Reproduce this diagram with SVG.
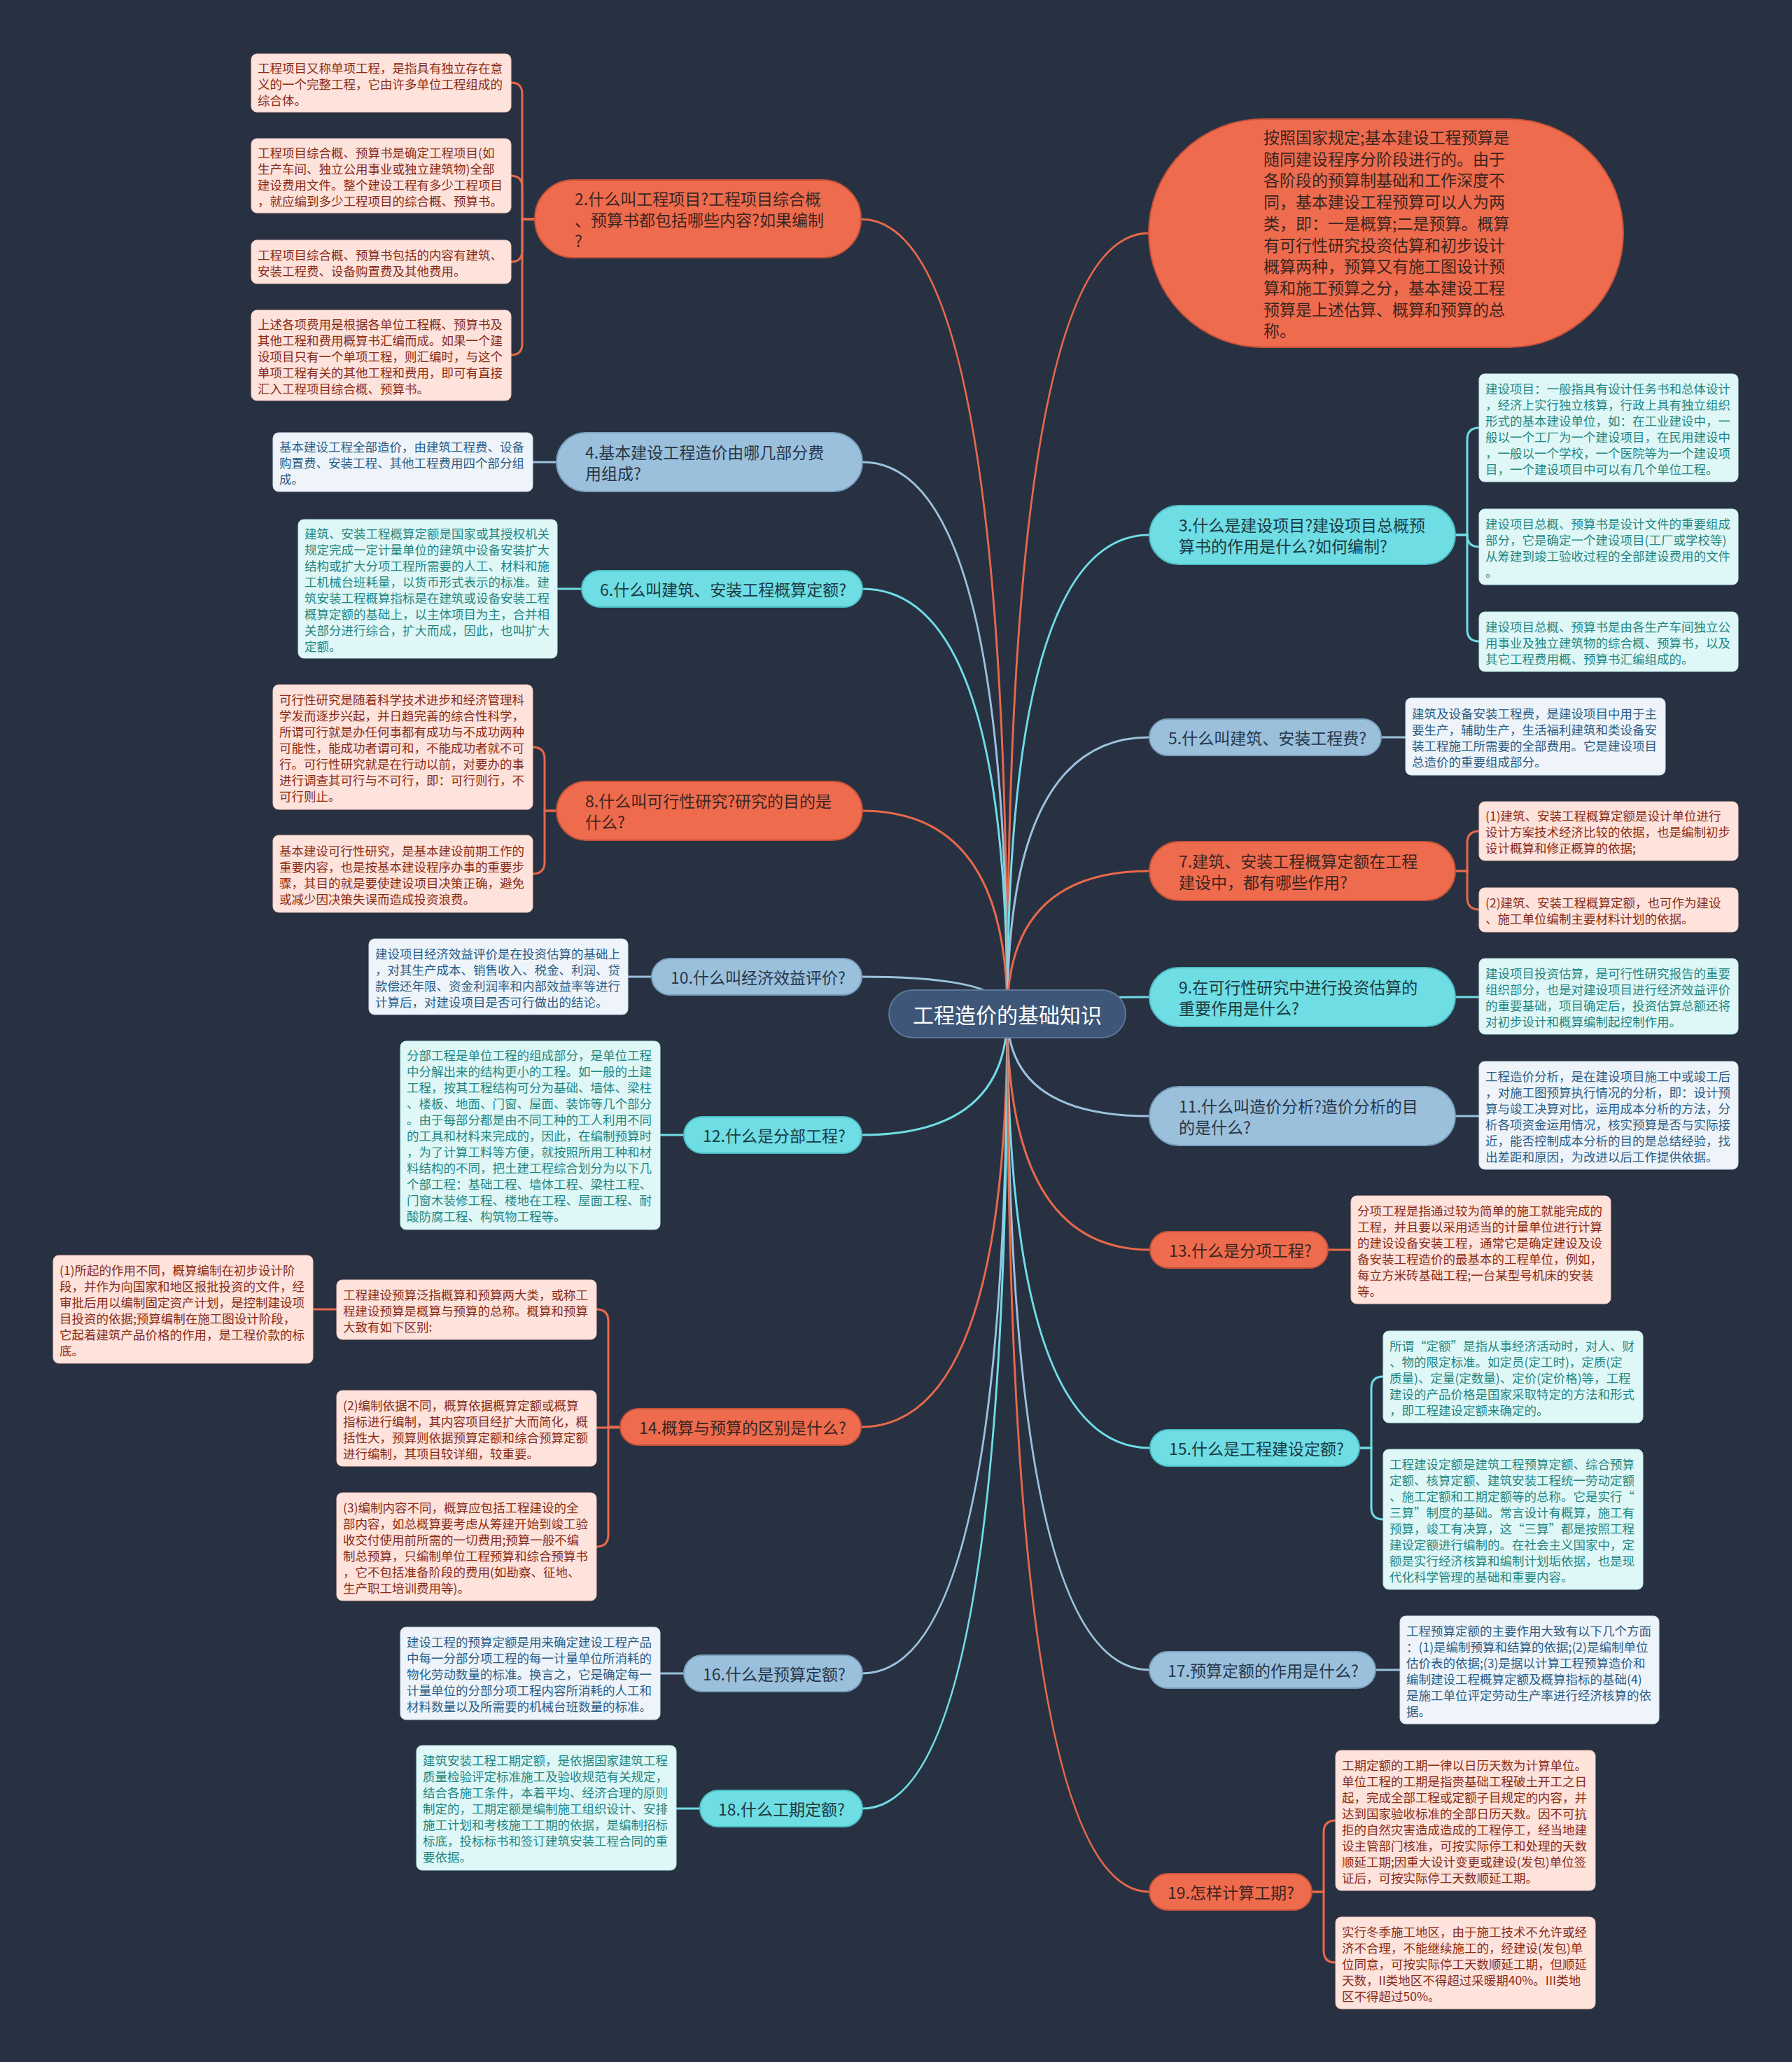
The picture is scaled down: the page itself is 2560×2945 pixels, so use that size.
<svg xmlns="http://www.w3.org/2000/svg" width="2560" height="2945" viewBox="0 0 2560 2945">
<style>
text,tspan{font-family:"Noto Sans CJK SC","Microsoft YaHei",sans-serif;dominant-baseline:central}
.c{fill:none;stroke-width:3}
.c-or{stroke:#e8694a}.c-lb{stroke:#9cc2dd}.c-cy{stroke:#6fdde5}
.n-or{fill:#ee6b4d;stroke:#c45238;stroke-width:2}
.n-lb{fill:#9bc0dc;stroke:#7a9fbd;stroke-width:2}
.n-cy{fill:#6edde4;stroke:#4cbcc4;stroke-width:2}
.tn{font-size:23px}
.tn-or{fill:#3c2520}.tn-lb{fill:#26374a}.tn-cy{fill:#1c3a42}
.l-pk{fill:#fde3dc;stroke:#f4c9bd;stroke-width:1}
.l-lb{fill:#eef4f9;stroke:#cfdfec;stroke-width:1}
.l-cy{fill:#e0f7f7;stroke:#bde9ea;stroke-width:1}
.tl{font-size:17.5px}
.tl-pk{fill:#8a2b17}.tl-lb{fill:#2a5d88}.tl-cy{fill:#1f8783}
</style>
<rect width="2560" height="2945" fill="#283142"/>

<g id="connectors">
<!-- center to branches -->
<path class="c c-or" d="M1439,1448 Q1439,313 1230,313"/>
<path class="c c-lb" d="M1439,1448 Q1439,660 1232,660"/>
<path class="c c-cy" d="M1439,1448 Q1439,841 1232,841"/>
<path class="c c-or" d="M1439,1448 Q1439,1158 1232,1158"/>
<path class="c c-lb" d="M1439,1448 Q1439,1395 1231,1395"/>
<path class="c c-cy" d="M1439,1448 Q1439,1621 1231,1621"/>
<path class="c c-or" d="M1439,1448 Q1439,2038 1230,2038"/>
<path class="c c-lb" d="M1439,1448 Q1439,2390 1232,2390"/>
<path class="c c-cy" d="M1439,1448 Q1439,2583 1232,2583"/>
<path class="c c-or" d="M1439,1448 Q1439,333 1641,333"/>
<path class="c c-cy" d="M1439,1448 Q1439,764 1642,764"/>
<path class="c c-lb" d="M1439,1448 Q1439,1053 1642,1053"/>
<path class="c c-or" d="M1439,1448 Q1439,1244 1642,1244"/>
<path class="c c-cy" d="M1439,1448 Q1439,1424 1642,1424"/>
<path class="c c-lb" d="M1439,1448 Q1439,1594 1642,1594"/>
<path class="c c-or" d="M1439,1448 Q1439,1785 1643,1785"/>
<path class="c c-cy" d="M1439,1448 Q1439,2068 1643,2068"/>
<path class="c c-lb" d="M1439,1448 Q1439,2385 1642,2385"/>
<path class="c c-or" d="M1439,1448 Q1439,2702 1642,2702"/>
<!-- branch to leaves -->
<path class="c c-or" d="M764,313 H746 V134 Q746,118 730,118"/>
<path class="c c-or" d="M764,313 H746 V267 Q746,251 730,251"/>
<path class="c c-or" d="M764,313 H746 V358 Q746,374 730,374"/>
<path class="c c-or" d="M764,313 H746 V491 Q746,507 730,507"/>
<path class="c c-lb" d="M795,660 H761"/>
<path class="c c-cy" d="M831,841 H796"/>
<path class="c c-or" d="M795,1158 H778 V1084 Q778,1067 761,1067"/>
<path class="c c-or" d="M795,1158 H778 V1231 Q778,1248 761,1248"/>
<path class="c c-lb" d="M931,1395 H897"/>
<path class="c c-cy" d="M977,1621 H943"/>
<path class="c c-or" d="M886,2038 H869 V1887 Q869,1870 852,1870"/>
<path class="c c-or" d="M886,2039 H852"/>
<path class="c c-or" d="M886,2038 H869 V2192 Q869,2209 852,2209"/>
<path class="c c-or" d="M481,1870 H447"/>
<path class="c c-lb" d="M977,2390 H943"/>
<path class="c c-cy" d="M1000,2583 H966"/>
<path class="c c-cy" d="M2079,764 H2096 V628 Q2096,611 2113,611"/>
<path class="c c-cy" d="M2079,764 H2096 Q2096,781 2113,781"/>
<path class="c c-cy" d="M2079,764 H2096 V899 Q2096,916 2113,916"/>
<path class="c c-lb" d="M1973,1053 H2008"/>
<path class="c c-or" d="M2079,1244 H2096 V1204 Q2096,1187 2113,1187"/>
<path class="c c-or" d="M2079,1244 H2096 V1282 Q2096,1299 2113,1299"/>
<path class="c c-cy" d="M2079,1424 H2113"/>
<path class="c c-lb" d="M2079,1594 H2113"/>
<path class="c c-or" d="M1897,1785 H1930"/>
<path class="c c-cy" d="M1942,2068 H1959 V1983 Q1959,1966 1976,1966"/>
<path class="c c-cy" d="M1942,2068 H1959 V2153 Q1959,2170 1976,2170"/>
<path class="c c-lb" d="M1965,2385 H2000"/>
<path class="c c-or" d="M1874,2702 H1891 V2617 Q1891,2600 1908,2600"/>
<path class="c c-or" d="M1874,2702 H1891 V2786 Q1891,2803 1908,2803"/>
</g>

<g id="center">
<rect x="1270" y="1414" width="338" height="68" rx="34" fill="#3e5677" stroke="#5b7698" stroke-width="2"/>
<text x="1439" y="1448" text-anchor="middle" font-size="30" fill="#ffffff">工程造价的基础知识</text>
</g>

<!-- Node 1 (oval) -->
<g id="n1">
<rect x="1641" y="170" width="678" height="326" rx="163" class="n-or"/>
<text class="tn tn-or">
<tspan x="1805" y="195">按照国家规定;基本建设工程预算是</tspan>
<tspan x="1805" y="225.7">随同建设程序分阶段进行的。由于</tspan>
<tspan x="1805" y="256.4">各阶段的预算制基础和工作深度不</tspan>
<tspan x="1805" y="287.1">同，基本建设工程预算可以人为两</tspan>
<tspan x="1805" y="317.8">类，即：一是概算;二是预算。概算</tspan>
<tspan x="1805" y="348.5">有可行性研究投资估算和初步设计</tspan>
<tspan x="1805" y="379.2">概算两种，预算又有施工图设计预</tspan>
<tspan x="1805" y="409.9">算和施工预算之分，基本建设工程</tspan>
<tspan x="1805" y="440.6">预算是上述估算、概算和预算的总</tspan>
<tspan x="1805" y="471.3">称。</tspan>
</text>
</g>

<!-- Node 2 -->
<g id="n2">
<rect x="764" y="257" width="466" height="111" rx="55" class="n-or"/>
<text class="tn tn-or">
<tspan x="821" y="283">2.什么叫工程项目?工程项目综合概</tspan>
<tspan x="821" y="313">、预算书都包括哪些内容?如果编制</tspan>
<tspan x="821" y="343">?</tspan>
</text>
</g>
<g id="n2-l1">
<rect x="359" y="77" width="371" height="83" rx="8" class="l-pk"/>
<text class="tl tl-pk">
<tspan x="368" y="95.5">工程项目又称单项工程，是指具有独立存在意</tspan>
<tspan x="368" y="118.5">义的一个完整工程，它由许多单位工程组成的</tspan>
<tspan x="368" y="141.5">综合体。</tspan>
</text>
</g>
<g id="n2-l2">
<rect x="359" y="198" width="371" height="106" rx="8" class="l-pk"/>
<text class="tl tl-pk">
<tspan x="368" y="216.5">工程项目综合概、预算书是确定工程项目(如</tspan>
<tspan x="368" y="239.5">生产车间、独立公用事业或独立建筑物)全部</tspan>
<tspan x="368" y="262.5">建设费用文件。整个建设工程有多少工程项目</tspan>
<tspan x="368" y="285.5">，就应编到多少工程项目的综合概、预算书。</tspan>
</text>
</g>
<g id="n2-l3">
<rect x="359" y="343" width="371" height="62" rx="8" class="l-pk"/>
<text class="tl tl-pk">
<tspan x="368" y="362.5">工程项目综合概、预算书包括的内容有建筑、</tspan>
<tspan x="368" y="385.5">安装工程费、设备购置费及其他费用。</tspan>
</text>
</g>
<g id="n2-l4">
<rect x="359" y="443" width="371" height="129" rx="8" class="l-pk"/>
<text class="tl tl-pk">
<tspan x="368" y="461.5">上述各项费用是根据各单位工程概、预算书及</tspan>
<tspan x="368" y="484.5">其他工程和费用概算书汇编而成。如果一个建</tspan>
<tspan x="368" y="507.5">设项目只有一个单项工程，则汇编时，与这个</tspan>
<tspan x="368" y="530.5">单项工程有关的其他工程和费用，即可有直接</tspan>
<tspan x="368" y="553.5">汇入工程项目综合概、预算书。</tspan>
</text>
</g>

<!-- Node 4 -->
<g id="n4">
<rect x="795" y="618" width="437" height="84" rx="42" class="n-lb"/>
<text class="tn tn-lb">
<tspan x="836" y="645">4.基本建设工程造价由哪几部分费</tspan>
<tspan x="836" y="675">用组成?</tspan>
</text>
</g>
<g id="n4-l1">
<rect x="390" y="618" width="371" height="84" rx="8" class="l-lb"/>
<text class="tl tl-lb">
<tspan x="399" y="637">基本建设工程全部造价，由建筑工程费、设备</tspan>
<tspan x="399" y="660">购置费、安装工程、其他工程费用四个部分组</tspan>
<tspan x="399" y="683">成。</tspan>
</text>
</g>

<!-- Node 6 -->
<g id="n6">
<rect x="831" y="815" width="401" height="52" rx="26" class="n-cy"/>
<text class="tn tn-cy" x="857" y="841">6.什么叫建筑、安装工程概算定额?</text>
</g>
<g id="n6-l1">
<rect x="426" y="742" width="370" height="198" rx="8" class="l-cy"/>
<text class="tl tl-cy">
<tspan x="435" y="760.5">建筑、安装工程概算定额是国家或其授权机关</tspan>
<tspan x="435" y="783.5">规定完成一定计量单位的建筑中设备安装扩大</tspan>
<tspan x="435" y="806.5">结构或扩大分项工程所需要的人工、材料和施</tspan>
<tspan x="435" y="829.5">工机械台班耗量，以货币形式表示的标准。建</tspan>
<tspan x="435" y="852.5">筑安装工程概算指标是在建筑或设备安装工程</tspan>
<tspan x="435" y="875.5">概算定额的基础上，以主体项目为主，合并相</tspan>
<tspan x="435" y="898.5">关部分进行综合，扩大而成，因此，也叫扩大</tspan>
<tspan x="435" y="921.5">定额。</tspan>
</text>
</g>

<!-- Node 8 -->
<g id="n8">
<rect x="795" y="1116" width="437" height="84" rx="42" class="n-or"/>
<text class="tn tn-or">
<tspan x="836" y="1143">8.什么叫可行性研究?研究的目的是</tspan>
<tspan x="836" y="1173">什么?</tspan>
</text>
</g>
<g id="n8-l1">
<rect x="390" y="978" width="371" height="178" rx="8" class="l-pk"/>
<text class="tl tl-pk">
<tspan x="399" y="998">可行性研究是随着科学技术进步和经济管理科</tspan>
<tspan x="399" y="1021">学发而逐步兴起，并日趋完善的综合性科学，</tspan>
<tspan x="399" y="1044">所谓可行就是办任何事都有成功与不成功两种</tspan>
<tspan x="399" y="1067">可能性，能成功者谓可和，不能成功者就不可</tspan>
<tspan x="399" y="1090">行。可行性研究就是在行动以前，对要办的事</tspan>
<tspan x="399" y="1113">进行调查其可行与不可行，即：可行则行，不</tspan>
<tspan x="399" y="1136">可行则止。</tspan>
</text>
</g>
<g id="n8-l2">
<rect x="390" y="1193" width="371" height="110" rx="8" class="l-pk"/>
<text class="tl tl-pk">
<tspan x="399" y="1213.5">基本建设可行性研究，是基本建设前期工作的</tspan>
<tspan x="399" y="1236.5">重要内容，也是按基本建设程序办事的重要步</tspan>
<tspan x="399" y="1259.5">骤，其目的就是要使建设项目决策正确，避免</tspan>
<tspan x="399" y="1282.5">或减少因决策失误而造成投资浪费。</tspan>
</text>
</g>

<!-- Node 10 -->
<g id="n10">
<rect x="931" y="1369" width="300" height="52" rx="26" class="n-lb"/>
<text class="tn tn-lb" x="958" y="1395">10.什么叫经济效益评价?</text>
</g>
<g id="n10-l1">
<rect x="527" y="1341" width="370" height="108" rx="8" class="l-lb"/>
<text class="tl tl-lb">
<tspan x="536" y="1360.5">建设项目经济效益评价是在投资估算的基础上</tspan>
<tspan x="536" y="1383.5">，对其生产成本、销售收入、税金、利润、贷</tspan>
<tspan x="536" y="1406.5">款偿还年限、资金利润率和内部效益率等进行</tspan>
<tspan x="536" y="1429.5">计算后，对建设项目是否可行做出的结论。</tspan>
</text>
</g>

<!-- Node 12 -->
<g id="n12">
<rect x="977" y="1595" width="254" height="52" rx="26" class="n-cy"/>
<text class="tn tn-cy" x="1004" y="1621">12.什么是分部工程?</text>
</g>
<g id="n12-l1">
<rect x="572" y="1487" width="371" height="269" rx="8" class="l-cy"/>
<text class="tl tl-cy">
<tspan x="581" y="1506">分部工程是单位工程的组成部分，是单位工程</tspan>
<tspan x="581" y="1529">中分解出来的结构更小的工程。如一般的土建</tspan>
<tspan x="581" y="1552">工程，按其工程结构可分为基础、墙体、梁柱</tspan>
<tspan x="581" y="1575">、楼板、地面、门窗、屋面、装饰等几个部分</tspan>
<tspan x="581" y="1598">。由于每部分都是由不同工种的工人利用不同</tspan>
<tspan x="581" y="1621">的工具和材料来完成的，因此，在编制预算时</tspan>
<tspan x="581" y="1644">，为了计算工料等方便，就按照所用工种和材</tspan>
<tspan x="581" y="1667">料结构的不同，把土建工程综合划分为以下几</tspan>
<tspan x="581" y="1690">个部工程：基础工程、墙体工程、梁柱工程、</tspan>
<tspan x="581" y="1713">门窗木装修工程、楼地在工程、屋面工程、耐</tspan>
<tspan x="581" y="1736">酸防腐工程、构筑物工程等。</tspan>
</text>
</g>

<!-- Node 14 -->
<g id="n14">
<rect x="886" y="2012" width="344" height="52" rx="26" class="n-or"/>
<text class="tn tn-or" x="913" y="2038">14.概算与预算的区别是什么?</text>
</g>
<g id="n14-l1">
<rect x="481" y="1828" width="371" height="85" rx="8" class="l-pk"/>
<text class="tl tl-pk">
<tspan x="490" y="1847.5">工程建设预算泛指概算和预算两大类，或称工</tspan>
<tspan x="490" y="1870.5">程建设预算是概算与预算的总称。概算和预算</tspan>
<tspan x="490" y="1893.5">大致有如下区别:</tspan>
</text>
</g>
<g id="n14-l1a">
<rect x="76" y="1793" width="371" height="154" rx="8" class="l-pk"/>
<text class="tl tl-pk">
<tspan x="85" y="1812.5">(1)所起的作用不同，概算编制在初步设计阶</tspan>
<tspan x="85" y="1835.5">段，并作为向国家和地区报批投资的文件，经</tspan>
<tspan x="85" y="1858.5">审批后用以编制固定资产计划，是控制建设项</tspan>
<tspan x="85" y="1881.5">目投资的依据;预算编制在施工图设计阶段，</tspan>
<tspan x="85" y="1904.5">它起着建筑产品价格的作用，是工程价款的标</tspan>
<tspan x="85" y="1927.5">底。</tspan>
</text>
</g>
<g id="n14-l2">
<rect x="481" y="1986" width="371" height="108" rx="8" class="l-pk"/>
<text class="tl tl-pk">
<tspan x="490" y="2005.5">(2)编制依据不同，概算依据概算定额或概算</tspan>
<tspan x="490" y="2028.5">指标进行编制，其内容项目经扩大而简化，概</tspan>
<tspan x="490" y="2051.5">括性大，预算则依据预算定额和综合预算定额</tspan>
<tspan x="490" y="2074.5">进行编制，其项目较详细，较重要。</tspan>
</text>
</g>
<g id="n14-l3">
<rect x="481" y="2132" width="371" height="154" rx="8" class="l-pk"/>
<text class="tl tl-pk">
<tspan x="490" y="2151.5">(3)编制内容不同，概算应包括工程建设的全</tspan>
<tspan x="490" y="2174.5">部内容，如总概算要考虑从筹建开始到竣工验</tspan>
<tspan x="490" y="2197.5">收交付使用前所需的一切费用;预算一般不编</tspan>
<tspan x="490" y="2220.5">制总预算，只编制单位工程预算和综合预算书</tspan>
<tspan x="490" y="2243.5">，它不包括准备阶段的费用(如勘察、征地、</tspan>
<tspan x="490" y="2266.5">生产职工培训费用等)。</tspan>
</text>
</g>

<!-- Node 16 -->
<g id="n16">
<rect x="977" y="2364" width="255" height="52" rx="26" class="n-lb"/>
<text class="tn tn-lb" x="1004" y="2390">16.什么是预算定额?</text>
</g>
<g id="n16-l1">
<rect x="572" y="2324" width="371" height="132" rx="8" class="l-lb"/>
<text class="tl tl-lb">
<tspan x="581" y="2344">建设工程的预算定额是用来确定建设工程产品</tspan>
<tspan x="581" y="2367">中每一分部分项工程的每一计量单位所消耗的</tspan>
<tspan x="581" y="2390">物化劳动数量的标准。换言之，它是确定每一</tspan>
<tspan x="581" y="2413">计量单位的分部分项工程内容所消耗的人工和</tspan>
<tspan x="581" y="2436">材料数量以及所需要的机械台班数量的标准。</tspan>
</text>
</g>

<!-- Node 18 -->
<g id="n18">
<rect x="1000" y="2557" width="232" height="52" rx="26" class="n-cy"/>
<text class="tn tn-cy" x="1026" y="2583">18.什么工期定额?</text>
</g>
<g id="n18-l1">
<rect x="595" y="2493" width="371" height="178" rx="8" class="l-cy"/>
<text class="tl tl-cy">
<tspan x="604" y="2513">建筑安装工程工期定额，是依据国家建筑工程</tspan>
<tspan x="604" y="2536">质量检验评定标准施工及验收规范有关规定，</tspan>
<tspan x="604" y="2559">结合各施工条件，本着平均、经济合理的原则</tspan>
<tspan x="604" y="2582">制定的，工期定额是编制施工组织设计、安排</tspan>
<tspan x="604" y="2605">施工计划和考核施工工期的依据，是编制招标</tspan>
<tspan x="604" y="2628">标底，投标标书和签订建筑安装工程合同的重</tspan>
<tspan x="604" y="2651">要依据。</tspan>
</text>
</g>

<!-- Node 3 -->
<g id="n3">
<rect x="1642" y="722" width="437" height="84" rx="42" class="n-cy"/>
<text class="tn tn-cy">
<tspan x="1684" y="749">3.什么是建设项目?建设项目总概预</tspan>
<tspan x="1684" y="779">算书的作用是什么?如何编制?</tspan>
</text>
</g>
<g id="n3-l1">
<rect x="2113" y="534" width="370" height="154" rx="8" class="l-cy"/>
<text class="tl tl-cy">
<tspan x="2122" y="553.5">建设项目：一般指具有设计任务书和总体设计</tspan>
<tspan x="2122" y="576.5">，经济上实行独立核算，行政上具有独立组织</tspan>
<tspan x="2122" y="599.5">形式的基本建设单位，如：在工业建设中，一</tspan>
<tspan x="2122" y="622.5">般以一个工厂为一个建设项目，在民用建设中</tspan>
<tspan x="2122" y="645.5">，一般以一个学校，一个医院等为一个建设项</tspan>
<tspan x="2122" y="668.5">目，一个建设项目中可以有几个单位工程。</tspan>
</text>
</g>
<g id="n3-l2">
<rect x="2113" y="727" width="370" height="108" rx="8" class="l-cy"/>
<text class="tl tl-cy">
<tspan x="2122" y="746.5">建设项目总概、预算书是设计文件的重要组成</tspan>
<tspan x="2122" y="769.5">部分，它是确定一个建设项目(工厂或学校等)</tspan>
<tspan x="2122" y="792.5">从筹建到竣工验收过程的全部建设费用的文件</tspan>
<tspan x="2122" y="815.5">。</tspan>
</text>
</g>
<g id="n3-l3">
<rect x="2113" y="874" width="370" height="85" rx="8" class="l-cy"/>
<text class="tl tl-cy">
<tspan x="2122" y="893.5">建设项目总概、预算书是由各生产车间独立公</tspan>
<tspan x="2122" y="916.5">用事业及独立建筑物的综合概、预算书，以及</tspan>
<tspan x="2122" y="939.5">其它工程费用概、预算书汇编组成的。</tspan>
</text>
</g>

<!-- Node 5 -->
<g id="n5">
<rect x="1642" y="1027" width="331" height="52" rx="26" class="n-lb"/>
<text class="tn tn-lb" x="1669" y="1053">5.什么叫建筑、安装工程费?</text>
</g>
<g id="n5-l1">
<rect x="2008" y="997" width="371" height="110" rx="8" class="l-lb"/>
<text class="tl tl-lb">
<tspan x="2017" y="1017.5">建筑及设备安装工程费，是建设项目中用于主</tspan>
<tspan x="2017" y="1040.5">要生产，辅助生产，生活福利建筑和类设备安</tspan>
<tspan x="2017" y="1063.5">装工程施工所需要的全部费用。它是建设项目</tspan>
<tspan x="2017" y="1086.5">总造价的重要组成部分。</tspan>
</text>
</g>

<!-- Node 7 -->
<g id="n7">
<rect x="1642" y="1202" width="437" height="84" rx="42" class="n-or"/>
<text class="tn tn-or">
<tspan x="1684" y="1229">7.建筑、安装工程概算定额在工程</tspan>
<tspan x="1684" y="1259">建设中，都有哪些作用?</tspan>
</text>
</g>
<g id="n7-l1">
<rect x="2113" y="1145" width="370" height="84" rx="8" class="l-pk"/>
<text class="tl tl-pk">
<tspan x="2122" y="1164">(1)建筑、安装工程概算定额是设计单位进行</tspan>
<tspan x="2122" y="1187">设计方案技术经济比较的依据，也是编制初步</tspan>
<tspan x="2122" y="1210">设计概算和修正概算的依据;</tspan>
</text>
</g>
<g id="n7-l2">
<rect x="2113" y="1268" width="370" height="63" rx="8" class="l-pk"/>
<text class="tl tl-pk">
<tspan x="2122" y="1288">(2)建筑、安装工程概算定额，也可作为建设</tspan>
<tspan x="2122" y="1311">、施工单位编制主要材料计划的依据。</tspan>
</text>
</g>

<!-- Node 9 -->
<g id="n9">
<rect x="1642" y="1382" width="437" height="84" rx="42" class="n-cy"/>
<text class="tn tn-cy">
<tspan x="1684" y="1409">9.在可行性研究中进行投资估算的</tspan>
<tspan x="1684" y="1439">重要作用是什么?</tspan>
</text>
</g>
<g id="n9-l1">
<rect x="2113" y="1369" width="370" height="108" rx="8" class="l-cy"/>
<text class="tl tl-cy">
<tspan x="2122" y="1388.5">建设项目投资估算，是可行性研究报告的重要</tspan>
<tspan x="2122" y="1411.5">组织部分，也是对建设项目进行经济效益评价</tspan>
<tspan x="2122" y="1434.5">的重要基础，项目确定后，投资估算总额还将</tspan>
<tspan x="2122" y="1457.5">对初步设计和概算编制起控制作用。</tspan>
</text>
</g>

<!-- Node 11 -->
<g id="n11">
<rect x="1642" y="1552" width="437" height="84" rx="42" class="n-lb"/>
<text class="tn tn-lb">
<tspan x="1684" y="1579">11.什么叫造价分析?造价分析的目</tspan>
<tspan x="1684" y="1609">的是什么?</tspan>
</text>
</g>
<g id="n11-l1">
<rect x="2113" y="1516" width="370" height="154" rx="8" class="l-lb"/>
<text class="tl tl-lb">
<tspan x="2122" y="1535.5">工程造价分析，是在建设项目施工中或竣工后</tspan>
<tspan x="2122" y="1558.5">，对施工图预算执行情况的分析，即：设计预</tspan>
<tspan x="2122" y="1581.5">算与竣工决算对比，运用成本分析的方法，分</tspan>
<tspan x="2122" y="1604.5">析各项资金运用情况，核实预算是否与实际接</tspan>
<tspan x="2122" y="1627.5">近，能否控制成本分析的目的是总结经验，找</tspan>
<tspan x="2122" y="1650.5">出差距和原因，为改进以后工作提供依据。</tspan>
</text>
</g>

<!-- Node 13 -->
<g id="n13">
<rect x="1643" y="1759" width="254" height="52" rx="26" class="n-or"/>
<text class="tn tn-or" x="1670" y="1785">13.什么是分项工程?</text>
</g>
<g id="n13-l1">
<rect x="1930" y="1708" width="371" height="154" rx="8" class="l-pk"/>
<text class="tl tl-pk">
<tspan x="1939" y="1727.5">分项工程是指通过较为简单的施工就能完成的</tspan>
<tspan x="1939" y="1750.5">工程，并且要以采用适当的计量单位进行计算</tspan>
<tspan x="1939" y="1773.5">的建设设备安装工程，通常它是确定建设及设</tspan>
<tspan x="1939" y="1796.5">备安装工程造价的最基本的工程单位，例如，</tspan>
<tspan x="1939" y="1819.5">每立方米砖基础工程;一台某型号机床的安装</tspan>
<tspan x="1939" y="1842.5">等。</tspan>
</text>
</g>

<!-- Node 15 -->
<g id="n15">
<rect x="1643" y="2042" width="299" height="52" rx="26" class="n-cy"/>
<text class="tn tn-cy" x="1670" y="2068">15.什么是工程建设定额?</text>
</g>
<g id="n15-l1">
<rect x="1976" y="1901" width="371" height="131" rx="8" class="l-cy"/>
<text class="tl tl-cy">
<tspan x="1985" y="1920.5">所谓“定额”是指从事经济活动时，对人、财</tspan>
<tspan x="1985" y="1943.5">、物的限定标准。如定员(定工时)，定质(定</tspan>
<tspan x="1985" y="1966.5">质量)、定量(定数量)、定价(定价格)等，工程</tspan>
<tspan x="1985" y="1989.5">建设的产品价格是国家采取特定的方法和形式</tspan>
<tspan x="1985" y="2012.5">，即工程建设定额来确定的。</tspan>
</text>
</g>
<g id="n15-l2">
<rect x="1976" y="2070" width="371" height="200" rx="8" class="l-cy"/>
<text class="tl tl-cy">
<tspan x="1985" y="2089.5">工程建设定额是建筑工程预算定额、综合预算</tspan>
<tspan x="1985" y="2112.5">定额、核算定额、建筑安装工程统一劳动定额</tspan>
<tspan x="1985" y="2135.5">、施工定额和工期定额等的总称。它是实行“</tspan>
<tspan x="1985" y="2158.5">三算”制度的基础。常言设计有概算，施工有</tspan>
<tspan x="1985" y="2181.5">预算，竣工有决算，这“三算”都是按照工程</tspan>
<tspan x="1985" y="2204.5">建设定额进行编制的。在社会主义国家中，定</tspan>
<tspan x="1985" y="2227.5">额是实行经济核算和编制计划垢依据，也是现</tspan>
<tspan x="1985" y="2250.5">代化科学管理的基础和重要内容。</tspan>
</text>
</g>

<!-- Node 17 -->
<g id="n17">
<rect x="1642" y="2359" width="323" height="52" rx="26" class="n-lb"/>
<text class="tn tn-lb" x="1668" y="2385">17.预算定额的作用是什么?</text>
</g>
<g id="n17-l1">
<rect x="2000" y="2308" width="370" height="154" rx="8" class="l-lb"/>
<text class="tl tl-lb">
<tspan x="2009" y="2327.5">工程预算定额的主要作用大致有以下几个方面</tspan>
<tspan x="2009" y="2350.5">：(1)是编制预算和结算的依据;(2)是编制单位</tspan>
<tspan x="2009" y="2373.5">估价表的依据;(3)是据以计算工程预算造价和</tspan>
<tspan x="2009" y="2396.5">编制建设工程概算定额及概算指标的基础(4)</tspan>
<tspan x="2009" y="2419.5">是施工单位评定劳动生产率进行经济核算的依</tspan>
<tspan x="2009" y="2442.5">据。</tspan>
</text>
</g>

<!-- Node 19 -->
<g id="n19">
<rect x="1642" y="2676" width="232" height="52" rx="26" class="n-or"/>
<text class="tn tn-or" x="1668" y="2702">19.怎样计算工期?</text>
</g>
<g id="n19-l1">
<rect x="1908" y="2500" width="371" height="200" rx="8" class="l-pk"/>
<text class="tl tl-pk">
<tspan x="1917" y="2519.5">工期定额的工期一律以日历天数为计算单位。</tspan>
<tspan x="1917" y="2542.5">单位工程的工期是指赍基础工程破土开工之日</tspan>
<tspan x="1917" y="2565.5">起，完成全部工程或定额子目规定的内容，并</tspan>
<tspan x="1917" y="2588.5">达到国家验收标准的全部日历天数。因不可抗</tspan>
<tspan x="1917" y="2611.5">拒的自然灾害造成造成的工程停工，经当地建</tspan>
<tspan x="1917" y="2634.5">设主管部门核准，可按实际停工和处理的天数</tspan>
<tspan x="1917" y="2657.5">顺延工期;因重大设计变更或建设(发包)单位签</tspan>
<tspan x="1917" y="2680.5">证后，可按实际停工天数顺延工期。</tspan>
</text>
</g>
<g id="n19-l2">
<rect x="1908" y="2738" width="371" height="131" rx="8" class="l-pk"/>
<text class="tl tl-pk">
<tspan x="1917" y="2757.5">实行冬季施工地区，由于施工技术不允许或经</tspan>
<tspan x="1917" y="2780.5">济不合理，不能继续施工的，经建设(发包)单</tspan>
<tspan x="1917" y="2803.5">位同意，可按实际停工天数顺延工期，但顺延</tspan>
<tspan x="1917" y="2826.5">天数，II类地区不得超过采暖期40%。III类地</tspan>
<tspan x="1917" y="2849.5">区不得超过50%。</tspan>
</text>
</g>
</svg>
